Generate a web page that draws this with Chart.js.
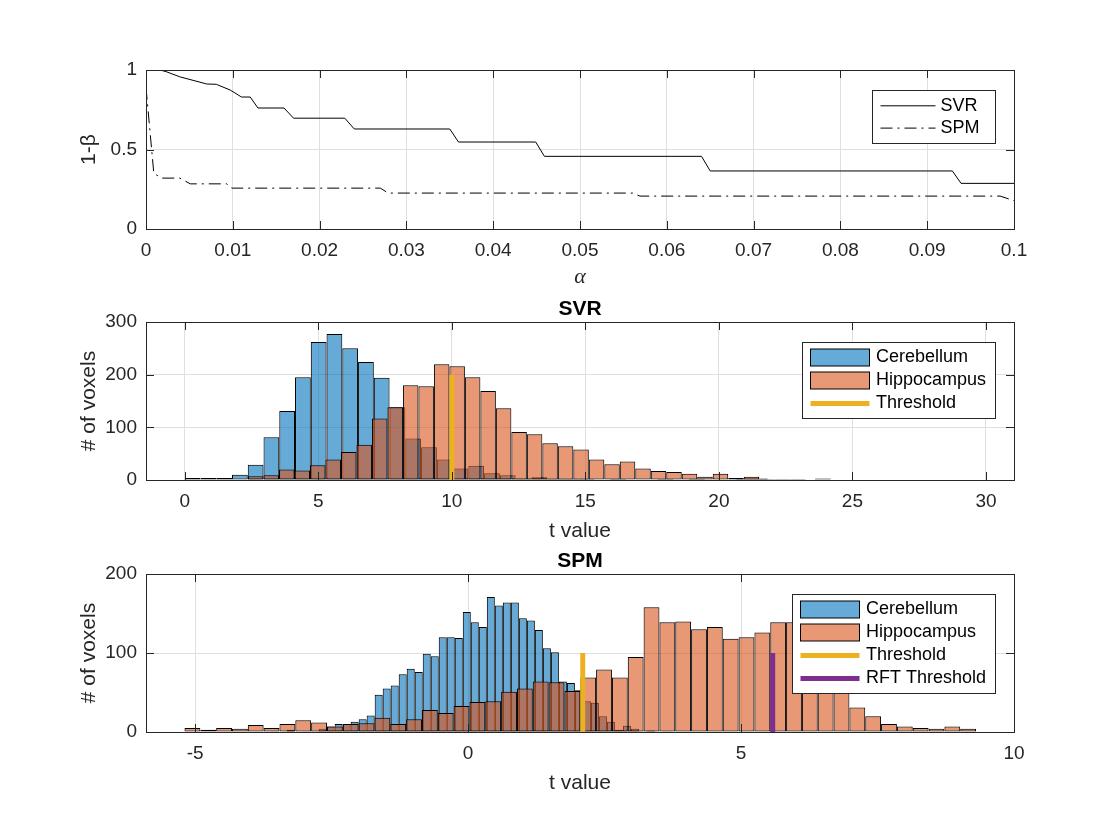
<!DOCTYPE html>
<html>
<head>
<meta charset="utf-8">
<title>SVR vs SPM</title>
<script src="https://cdn.jsdelivr.net/npm/chart.js@4.4.1/dist/chart.umd.min.js"></script>
<style>
  html, body { margin: 0; padding: 0; background: #fff; }
  #page { position: relative; width: 1120px; height: 840px; overflow: hidden; }
  canvas { position: absolute; left: 0; }
</style>
</head>
<body>
<div id="page">
  <canvas id="rocChart" width="1120" height="300" style="top:0px"></canvas>
  <canvas id="svrChart" width="1120" height="265" style="top:285px"></canvas>
  <canvas id="spmChart" width="1120" height="265" style="top:537px"></canvas>
</div>
<script>
// power curves (top panel)
const alphaSvr = [0, 0.0016, 0.0023, 0.0039, 0.007, 0.0081, 0.0097, 0.011, 0.012, 0.0129, 0.0159, 0.017,
  0.0229, 0.024, 0.035, 0.036, 0.0449, 0.0459, 0.064, 0.065, 0.0929, 0.0939, 0.1];
const powerSvr = [1, 1, 0.99, 0.957, 0.912, 0.91, 0.874, 0.83, 0.83, 0.761, 0.761, 0.697,
  0.697, 0.629, 0.629, 0.547, 0.547, 0.457, 0.457, 0.365, 0.365, 0.287, 0.287];
const alphaSpm = [0, 0.0009, 0.0018, 0.0039, 0.0051, 0.0093, 0.0099, 0.027, 0.0279, 0.0561, 0.0569, 0.0984, 0.1];
const powerSpm = [0.89, 0.35, 0.32, 0.32, 0.284, 0.284, 0.257, 0.257, 0.226, 0.226, 0.207, 0.207, 0.178];
const alphaTicks = [0, 0.01, 0.02, 0.03, 0.04, 0.05, 0.06, 0.07, 0.08, 0.09, 0.1];
const powerTicks = [0, 0.5, 1];

// SVR histograms: first bin edge and bin width for [Cerebellum, Hippocampus]
const svrBinStart = [0, 2.37];
const svrBinWidth = [0.59, 0.58];
const svrCerebellum = [4, 4, 4, 10, 29, 81, 131, 195, 262, 277,
  250, 224, 194, 138, 79, 62, 39, 22, 27, 13,
  9, 3, 5, 2, 2, 2, 1, 2, 1, 1,
  2, 1, 2, 1, 1, 3, 3, 1, 0, 0,
  3, 0, 0, 0, 0, 0, 0, 0, 1, 1];
const svrHippocampus = [7, 9, 20, 18, 28, 39, 53, 67, 117, 138,
  180, 178, 220, 216, 195, 169, 136, 91, 87, 70,
  64, 58, 39, 30, 35, 22, 17, 15, 12, 6,
  12, 4, 6, 2, 2, 2, 0, 1, 0, 1,
  1, 0, 1, 0, 0, 0, 0, 0, 0, 0];
const svrThreshold = 10;
const svrThresholdTop = 200;
const svrXRange = [-1.45, 31.05];
const svrXTicks = [0, 5, 10, 15, 20, 25, 30];
const svrYTicks = [0, 100, 200, 300];

// SPM histograms
const spmBinStart = [-3.618, -5.195];
const spmBinWidth = [0.1467, 0.29];
const spmCerebellum = [1, 0, 3, 0, 1, 1, 4, 7, 10, 10,
  13, 16, 21, 47, 55, 59, 73, 80, 76, 99,
  96, 120, 120, 119, 152, 139, 133, 171, 160, 164,
  164, 144, 141, 129, 106, 101, 64, 62, 53, 39,
  37, 20, 13, 3, 8, 4, 1, 2, 0, 1];
const spmHippocampus = [5, 3, 5, 4, 9, 5, 10, 15, 12, 7,
  10, 11, 18, 10, 16, 28, 24, 33, 38, 39,
  51, 55, 64, 63, 52, 69, 79, 69, 95, 158,
  139, 140, 130, 133, 118, 120, 126, 139, 139, 120,
  95, 65, 31, 20, 10, 7, 5, 4, 7, 4];
const spmThreshold = 2.1;
const spmRftThreshold = 5.58;
const spmThresholdTop = 100;
const spmXRange = [-5.9, 10];
const spmXTicks = [-5, 0, 5, 10];
const spmYTicks = [0, 100, 200];

Chart.defaults.font.family = '"Liberation Sans", Arial, Helvetica, sans-serif';
Chart.defaults.color = '#262626';

const TICK_FONT = { size: 19 };
const LABEL_FONT = { size: 21 };
const GRID_COLOR = '#dfdfdf';
const BOX_COLOR = '#262626';
const CEREBELLUM_COLOR = 'rgba(0, 114, 189, 0.6)';
const HIPPOCAMPUS_COLOR = 'rgba(217, 83, 25, 0.6)';

// axes box with inward tick marks, like a matlab axes
const axesBox = {
  id: 'axesBox',
  afterDatasetsDraw(chart) {
    const { ctx, chartArea: a } = chart;
    const xs = chart.scales.x;
    const ys = chart.scales.y;
    const len = 8;
    ctx.save();
    ctx.strokeStyle = BOX_COLOR;
    ctx.lineWidth = 1;
    ctx.beginPath();
    xs.ticks.forEach(t => {
      const px = Math.round(xs.getPixelForValue(t.value)) + 0.5;
      ctx.moveTo(px, a.bottom); ctx.lineTo(px, a.bottom - len);
      ctx.moveTo(px, a.top); ctx.lineTo(px, a.top + len);
    });
    ys.ticks.forEach(t => {
      const py = Math.round(ys.getPixelForValue(t.value)) + 0.5;
      ctx.moveTo(a.left, py); ctx.lineTo(a.left + len, py);
      ctx.moveTo(a.right, py); ctx.lineTo(a.right - len, py);
    });
    ctx.stroke();
    ctx.strokeRect(Math.round(a.left) + 0.5, Math.round(a.top) + 0.5,
      Math.round(a.right - a.left), Math.round(a.bottom - a.top));
    ctx.restore();
  }
};

// boxed legend in the upper right corner of the plot area
const boxLegend = {
  id: 'boxLegend',
  afterDraw(chart, args, opts) {
    const { ctx, chartArea } = chart;
    const items = chart.data.datasets;
    ctx.save();
    ctx.font = '18px "Liberation Sans", Arial, sans-serif';
    const textWidth = Math.max(...items.map(d => ctx.measureText(d.label).width));
    const w = Math.round(opts.padLeft + opts.sample + opts.gap + textWidth + opts.padRight);
    const h = Math.round(2 * opts.rowPad + opts.rowGap * (items.length - 1));
    const left = Math.round(chartArea.right - 19 - w) + 0.5;
    const top = Math.round(chartArea.top + 20) + 0.5;
    ctx.fillStyle = '#fff';
    ctx.fillRect(left, top, w, h);
    ctx.lineWidth = 1;
    ctx.strokeStyle = BOX_COLOR;
    ctx.strokeRect(left, top, w, h);
    items.forEach((d, i) => {
      const cy = top + opts.rowPad + i * opts.rowGap;
      const sx = left + opts.padLeft;
      const kind = d.type || chart.config.type;
      if (kind === 'bar') {
        ctx.fillStyle = d.backgroundColor;
        ctx.fillRect(sx, Math.round(cy - 8.5), opts.sample, 17);
        ctx.strokeStyle = d.borderColor;
        ctx.lineWidth = 1;
        ctx.strokeRect(sx, Math.round(cy - 8.5), opts.sample, 17);
      } else {
        ctx.strokeStyle = d.borderColor;
        ctx.lineWidth = d.borderWidth;
        ctx.setLineDash(d.borderDash || []);
        ctx.beginPath();
        ctx.moveTo(sx, cy);
        ctx.lineTo(sx + opts.sample, cy);
        ctx.stroke();
        ctx.setLineDash([]);
      }
      ctx.fillStyle = '#000';
      ctx.textBaseline = 'middle';
      ctx.textAlign = 'left';
      ctx.fillText(d.label, sx + opts.sample + opts.gap, cy);
    });
    ctx.restore();
  }
};

function xScale(range, ticks, titleText, titleFont, titlePadBottom, height) {
  return {
    type: 'linear',
    min: range[0],
    max: range[1],
    offset: false,
    afterBuildTicks: axis => { axis.ticks = ticks.map(v => ({ value: v })); },
    afterFit: axis => { axis.height = height; },
    grid: { color: GRID_COLOR, drawTicks: false, offset: false },
    border: { display: false },
    ticks: { font: TICK_FONT, padding: 10, autoSkip: false, maxRotation: 0, callback: v => String(v) },
    title: { display: true, text: titleText, font: titleFont, padding: { top: 0, bottom: titlePadBottom } }
  };
}

function yScale(range, ticks, titleText) {
  return {
    min: range[0],
    max: range[1],
    afterBuildTicks: axis => { axis.ticks = ticks.map(v => ({ value: v })); },
    afterFit: axis => { axis.width = 146; },
    grid: { color: GRID_COLOR, drawTicks: false },
    border: { display: false },
    ticks: { font: TICK_FONT, padding: 9, callback: v => String(v) },
    title: { display: true, text: titleText, font: LABEL_FONT, padding: { top: 77, bottom: 0 } }
  };
}

function histPoints(start, width, counts) {
  return counts.map((c, i) => ({ x: start + (i + 0.5) * width, y: c }));
}

function histDataset(label, color, points, axisId, order) {
  return {
    label,
    data: points,
    backgroundColor: color,
    borderColor: '#000',
    borderWidth: 1,
    borderSkipped: false,
    inflateAmount: 0,
    grouped: false,
    categoryPercentage: 1,
    barPercentage: 1,
    xAxisID: axisId,
    order
  };
}

function thresholdDataset(label, color, x, top, order) {
  return {
    type: 'line',
    label,
    data: [{ x, y: 0 }, { x, y: top }],
    borderColor: color,
    borderWidth: 5,
    pointRadius: 0,
    fill: false,
    xAxisID: 'x',
    order
  };
}

const histLegend = { sample: 59, gap: 6.5, padLeft: 8, padRight: 9, rowPad: 15, rowGap: 23 };

function histogramChart(canvasId, title, datasets, xRange, xTicks, yRange, yTicks) {
  return new Chart(document.getElementById(canvasId), {
    type: 'bar',
    data: { datasets },
    options: {
      responsive: false,
      animation: false,
      events: [],
      layout: { padding: { top: 0, right: 106, bottom: 0, left: 0 } },
      plugins: {
        legend: { display: false },
        tooltip: { enabled: false },
        title: {
          display: true, text: title, fullSize: false, color: '#000',
          font: { size: 21, weight: 'bold' }, padding: { top: 11.8, bottom: 0 }
        },
        boxLegend: histLegend
      },
      scales: {
        x: xScale(xRange, xTicks, 't value', LABEL_FONT, 6.4, 70),
        x2: { type: 'linear', min: xRange[0], max: xRange[1], offset: false, display: false },
        y: yScale(yRange, yTicks, '# of voxels')
      }
    },
    plugins: [axesBox, boxLegend]
  });
}

new Chart(document.getElementById('rocChart'), {
  type: 'line',
  data: {
    datasets: [
      {
        label: 'SVR',
        data: alphaSvr.map((a, i) => ({ x: a, y: powerSvr[i] })),
        borderColor: '#000', borderWidth: 1, pointRadius: 0, tension: 0, fill: false
      },
      {
        label: 'SPM',
        data: alphaSpm.map((a, i) => ({ x: a, y: powerSpm[i] })),
        borderColor: '#000', borderWidth: 1, borderDash: [12, 5, 2, 5], pointRadius: 0, tension: 0, fill: false
      }
    ]
  },
  options: {
    responsive: false,
    animation: false,
    events: [],
    layout: { padding: { top: 70, right: 106, bottom: 5, left: 0 } },
    plugins: {
      legend: { display: false },
      tooltip: { enabled: false },
      boxLegend: { sample: 55, gap: 5, padLeft: 8, padRight: 16, rowPad: 15.3, rowGap: 22.3 }
    },
    scales: {
      x: xScale([0, 0.1], alphaTicks, 'α',
        { family: '"Liberation Serif", "Times New Roman", serif', style: 'italic', size: 22 }, 4.3, 66),
      y: yScale([0, 1], powerTicks, '1-β')
    }
  },
  plugins: [axesBox, boxLegend]
});

histogramChart('svrChart', 'SVR', [
  histDataset('Cerebellum', CEREBELLUM_COLOR, histPoints(svrBinStart[0], svrBinWidth[0], svrCerebellum), 'x', 3),
  histDataset('Hippocampus', HIPPOCAMPUS_COLOR, histPoints(svrBinStart[1], svrBinWidth[1], svrHippocampus), 'x2', 2),
  thresholdDataset('Threshold', '#EDB120', svrThreshold, svrThresholdTop, 1)
], svrXRange, svrXTicks, [0, 300], svrYTicks);

histogramChart('spmChart', 'SPM', [
  histDataset('Cerebellum', CEREBELLUM_COLOR, histPoints(spmBinStart[0], spmBinWidth[0], spmCerebellum), 'x', 4),
  histDataset('Hippocampus', HIPPOCAMPUS_COLOR, histPoints(spmBinStart[1], spmBinWidth[1], spmHippocampus), 'x2', 3),
  thresholdDataset('Threshold', '#EDB120', spmThreshold, spmThresholdTop, 2),
  thresholdDataset('RFT Threshold', '#7E2F8E', spmRftThreshold, spmThresholdTop, 1)
], spmXRange, spmXTicks, [0, 200], spmYTicks);
</script>
</body>
</html>
